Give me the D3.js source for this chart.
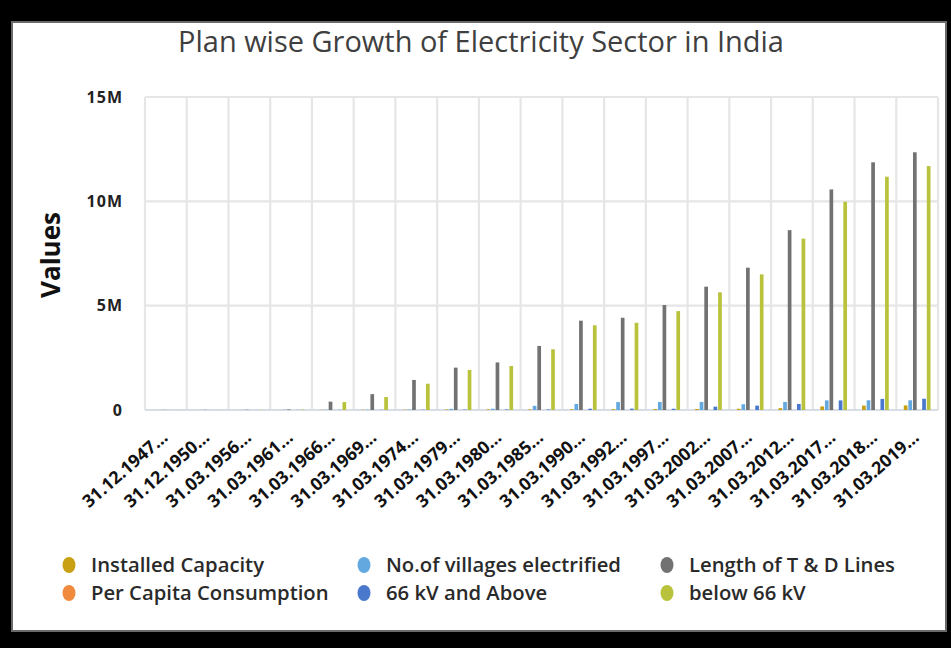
<!DOCTYPE html>
<html><head><meta charset="utf-8">
<script src="https://cdn.jsdelivr.net/npm/d3@7"></script>
<style>
html,body{margin:0;padding:0;background:#000;}
svg{display:block;}
</style></head><body>
<svg id="c" width="951" height="648"></svg>
<script>
// ---------- data ----------
const categories = ["31.12.1947…","31.12.1950…","31.03.1956…","31.03.1961…","31.03.1966…","31.03.1969…","31.03.1974…","31.03.1979…","31.03.1980…","31.03.1985…","31.03.1990…","31.03.1992…","31.03.1997…","31.03.2002…","31.03.2007…","31.03.2012…","31.03.2017…","31.03.2018…","31.03.2019…"];
const seriesNames = ["Installed Capacity","No.of villages electrified","Length of T & D Lines","Per Capita Consumption","66 kV and Above","below 66 kV"];
const seriesColors = ["#c9a012","#63a9e0","#727272","#f08a3e","#4a78cc","#b8c23a"];
const installedCapacity = [1362,1713,2886,4653,9027,12957,16664,26680,28448,30000,35000,40000,45000,50000,60000,90000,170000,210000,220000];
const villagesElectrified = [1500,3000,7000,10000,12000,15000,20000,55000,60000,200000,290000,380000,385000,385000,275000,385000,460000,465000,465000];
const lengthTDLines = [8000,10000,15000,30000,400000,760000,1440000,2030000,2280000,3070000,4280000,4420000,5030000,5910000,6820000,8620000,10570000,11870000,12350000];
const perCapitaConsumption = [16.3,18.2,30.9,45.9,61.2,73.9,99.7,126.2,132.3,171.6,253,300,334,559,672,884,1122,1149,1181];
const above66kV = [1000,2000,3000,5000,8000,10000,15000,20000,25000,25000,60000,65000,60000,160000,210000,290000,460000,530000,540000];
const below66kV = [6000,8000,12000,20000,380000,620000,1260000,1920000,2110000,2910000,4060000,4180000,4740000,5640000,6500000,8210000,9980000,11180000,11690000];
const seriesValues = [installedCapacity, villagesElectrified, lengthTDLines, perCapitaConsumption, above66kV, below66kV];
const yTicks = [0, 5e6, 10e6, 15e6];
const yTickLabels = ["0","5M","10M","15M"];
const titleText = "Plan wise Growth of Electricity Sector in India";
const yTitle = "Values";

// ---------- layout ----------
const svg = d3.select("#c");
const L = 145, R = 938, T = 97, B = 410;
const font = "'Open Sans', 'DejaVu Sans', sans-serif";

function fitSize(sel, base, target){
  const len = sel.node().getComputedTextLength();
  return base * target / len;
}

// frame
svg.append("rect").attr("x",0).attr("y",0).attr("width",951).attr("height",648).attr("fill","#000");
svg.append("rect").attr("x",12).attr("y",22).attr("width",934).attr("height",609)
  .attr("fill","#fff").attr("stroke","#6a6a6a").attr("stroke-width",2);

const x = d3.scaleBand().domain(categories).range([L, R]).padding(0);
const xs = d3.scaleBand().domain(seriesNames)
  .range([x.bandwidth()*0.18, x.bandwidth()*0.82]).paddingInner(0.2);
const y = d3.scaleLinear().domain([0, 15e6]).range([B, T]);

// grid
const grid = svg.append("g");
grid.selectAll("line.h").data(yTicks).join("line")
  .attr("x1",L).attr("x2",R).attr("y1",d=>y(d)).attr("y2",d=>y(d))
  .attr("stroke","#e6e6e6").attr("stroke-width",2.2);
grid.selectAll("line.v").data(categories.map(c=>x(c)).concat([R])).join("line")
  .attr("x1",d=>d).attr("x2",d=>d).attr("y1",T).attr("y2",B)
  .attr("stroke","#e6e6e6").attr("stroke-width",2.2);
svg.append("line").attr("x1",L).attr("x2",R).attr("y1",B).attr("y2",B)
  .attr("stroke","#d3dbe8").attr("stroke-width",1.5);

// bars
const bars = svg.append("g");
seriesNames.forEach((name, s) => {
  bars.append("g").attr("fill", seriesColors[s])
    .selectAll("rect").data(seriesValues[s]).join("rect")
    .attr("x",(d,i)=>x(categories[i]) + xs(name))
    .attr("width", xs.bandwidth())
    .attr("y", d=>y(d))
    .attr("height", d=>B - y(d));
});

// y axis
const ya = svg.append("g").attr("transform",`translate(123,0)`)
  .call(d3.axisLeft(y).tickValues(yTicks).tickFormat((d,i)=>yTickLabels[i]).tickSize(0).tickPadding(0));
ya.select(".domain").remove();
ya.selectAll("text").attr("font-family",font).attr("font-weight",700)
  .attr("font-size",16).attr("fill","#222").attr("letter-spacing","1px");

// x axis
const xa = svg.append("g").attr("transform",`translate(0,${B})`)
  .call(d3.axisBottom(x).tickSize(0).tickPadding(0));
xa.select(".domain").remove();
const xt = xa.selectAll("text").attr("font-family",font).attr("font-weight",700)
  .attr("font-size",13).attr("fill","#111")
  .attr("text-anchor","end").attr("x",0).attr("y",0).attr("dy",null)
  .attr("transform","translate(3,29) rotate(-41)");
const xfs = fitSize(d3.select(xt.nodes()[18]), 13, 106);
xt.attr("font-size", xfs);

// y title
const yt = svg.append("text").text(yTitle)
  .attr("font-family",font).attr("font-weight",700).attr("font-size",24).attr("fill","#111")
  .attr("text-anchor","middle").attr("transform","translate(60,255) rotate(-90)");
yt.attr("font-size", fitSize(yt, 24, 86));

// title
const tt = svg.append("text").text(titleText)
  .attr("font-family",font).attr("font-weight",400).attr("font-size",24).attr("fill","#3f3f3f")
  .attr("text-anchor","middle").attr("x",481).attr("y",52);
tt.attr("font-size", fitSize(tt, 24, 606));

// legend
const legPos = [[69,565],[364,565],[667,565],[69,593],[364,593],[667,593]];
const legOrder = [0,1,2,3,4,5];
const lg = svg.append("g");
const items = lg.selectAll("g").data(legOrder).join("g")
  .attr("transform",(d,i)=>`translate(${legPos[i][0]},${legPos[i][1]})`);
items.append("ellipse").attr("rx",6.5).attr("ry",8).attr("fill",d=>seriesColors[d]);
const lt = items.append("text").text(d=>seriesNames[d]).attr("x",22).attr("dy","0.35em")
  .attr("font-family",font).attr("font-weight",600).attr("font-size",16).attr("fill","#2a2a2a");
const lfs = fitSize(d3.select(lt.nodes()[0]), 16, 173);
lt.attr("font-size", lfs);
</script>
</body></html>
